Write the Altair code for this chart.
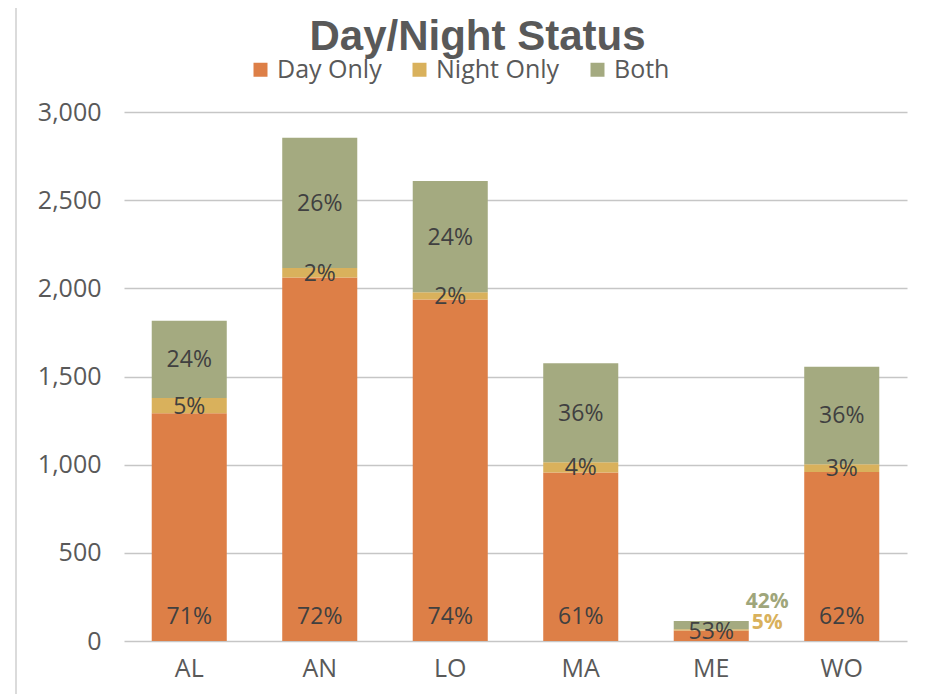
import altair as alt
import pandas as pd

categories = ["AL", "AN", "LO", "MA", "ME", "WO"]
series = ["Day Only", "Night Only", "Both"]
day_only = [1292, 2062, 1936, 955, 60, 958]
night_only = [86, 53, 42, 58, 6, 45]
both = [438, 739, 630, 562, 47, 553]
colors = ["#DD7F47", "#D9B15C", "#A4AA80"]
y_ticks = [0, 500, 1000, 1500, 2000, 2500, 3000]

rows = []
for i, c in enumerate(categories):
    for j, (s, vals) in enumerate(zip(series, [day_only, night_only, both])):
        rows.append({"cat": c, "series": s, "ord": j, "value": vals[i]})
df = pd.DataFrame(rows)

FONT = "Open Sans"
GRAY = "#595959"
LABEL = "#404040"

base = alt.Chart(df)

xenc = alt.X("cat:N", sort=categories, title=None,
             scale=alt.Scale(paddingInner=0.425, paddingOuter=0.2125),
             axis=alt.Axis(labelAngle=0, labelFontSize=25, labelColor=GRAY, labelFont=FONT,
                           labelPadding=15, ticks=False, domain=False))

bars = base.mark_bar().encode(
    x=xenc,
    y=alt.Y("sum(value):Q", title=None,
            scale=alt.Scale(domain=[0, 3000], nice=False),
            axis=alt.Axis(values=y_ticks, format=",d", labelFontSize=25, labelColor=GRAY,
                          labelFont=FONT, labelPadding=23, ticks=False, domain=False,
                          gridColor="#C6C6C6", gridWidth=1.5)),
    color=alt.Color("series:N", scale=alt.Scale(domain=series, range=colors),
                    legend=alt.Legend(title=None, orient="none", direction="horizontal",
                                      legendX=124, legendY=-55, symbolType="square",
                                      symbolSize=196, symbolStrokeWidth=0, labelFontSize=25,
                                      labelFont=FONT, labelColor=GRAY, labelOffset=4,
                                      columnPadding=25)),
    order=alt.Order("ord:Q", sort="ascending"),
)

stacked = base.transform_stack(
    stack="value", groupby=["cat"], as_=["v0", "v1"],
    sort=[alt.SortField("ord", order="ascending")]
).transform_joinaggregate(
    total="sum(value)", groupby=["cat"]
).transform_calculate(
    mid="(datum.v0 + datum.v1) / 2",
    pct="round(datum.value / datum.total * 100) + '%'"
)

mid_labels = stacked.transform_filter(
    "datum.cat != 'ME' && datum.series != 'Day Only'"
).mark_text(fontSize=23, font=FONT, color=LABEL, baseline="middle", dy=1).encode(
    x=alt.X("cat:N", sort=categories), y=alt.Y("mid:Q"), text="pct:N")

day_labels = stacked.transform_filter(
    "datum.cat != 'ME' && datum.series == 'Day Only'"
).mark_text(fontSize=23, font=FONT, color=LABEL, baseline="middle", dy=-24).encode(
    x=alt.X("cat:N", sort=categories), y=alt.Y("v0:Q"), text="pct:N")

me_day = stacked.transform_filter(
    "datum.cat == 'ME' && datum.series == 'Day Only'"
).mark_text(fontSize=23, font=FONT, color=LABEL, baseline="middle", dy=-4).encode(
    x=alt.X("cat:N", sort=categories), y=alt.Y("mid:Q"), text="pct:N")

me_night = stacked.transform_filter(
    "datum.cat == 'ME' && datum.series == 'Night Only'"
).mark_text(fontSize=21, font=FONT, fontWeight="bold", color=colors[1], baseline="middle",
            dx=56, dy=-7).encode(
    x=alt.X("cat:N", sort=categories), y=alt.Y("mid:Q"), text="pct:N")

me_both = stacked.transform_filter(
    "datum.cat == 'ME' && datum.series == 'Both'"
).mark_text(fontSize=21, font=FONT, fontWeight="bold", color="#9FA67B", baseline="middle",
            dx=56, dy=-23).encode(
    x=alt.X("cat:N", sort=categories), y=alt.Y("mid:Q"), text="pct:N")

border = alt.Chart(pd.DataFrame({"k": [0]})).mark_rect(
    fill=None, stroke="#D0D0D0", strokeWidth=1.5
).encode(x=alt.value(-108), x2=alt.value(817), y=alt.value(-107), y2=alt.value(600))

chart = alt.layer(border, bars, mid_labels, day_labels, me_day, me_night, me_both).properties(
    width=783, height=529,
    title=alt.TitleParams("Day/Night Status", fontSize=42, font="Liberation Sans",
                          fontWeight="bold", color=GRAY, anchor="middle", offset=-55, dx=-38),
    autosize=alt.AutoSizeParams(type="none"),
    padding={"left": 116, "top": 104, "right": 28, "bottom": 53},
).configure_view(stroke=None)

chart.save("out.html", embed_options={"renderer": "svg", "actions": False})
